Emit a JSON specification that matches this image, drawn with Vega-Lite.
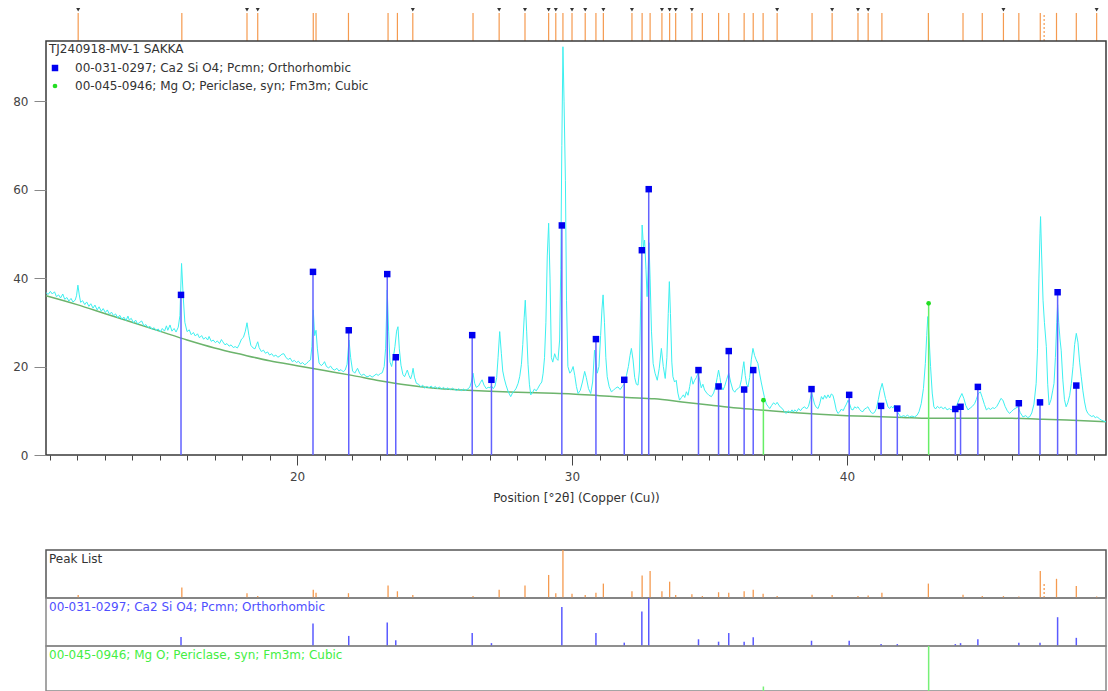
{
"$schema":"https://vega.github.io/schema/vega-lite/v6.json",
"background":"white",
"padding":{"left":11,"top":5,"right":2,"bottom":0},
"config":{"font":"DejaVu Sans","view":{"stroke":null},
 "axisY":{"tickCount":5,"tickSize":12,"tickColor":"#888","labelColor":"#444","labelFontSize":12,"labelPadding":6,"domain":false,"grid":false}},
"datasets":{
"spec":[
{"t":10.87,"c":36.7},{"t":10.95,"c":36.3},{"t":11.03,"c":37.0},{"t":11.1,"c":36.4},{"t":11.18,"c":36.9},{"t":11.25,"c":35.8},{"t":11.33,"c":36.2},{"t":11.4,"c":35.5},{"t":11.48,"c":36.4},{"t":11.55,"c":35.2},{"t":11.63,"c":35.6},{"t":11.7,"c":34.8},{"t":11.78,"c":35.4},{"t":11.85,"c":34.6},{"t":11.93,"c":35.0},{"t":11.98,"c":36.0},{"t":12.03,"c":38.4},{"t":12.08,"c":36.2},{"t":12.13,"c":34.5},{"t":12.2,"c":34.9},{"t":12.28,"c":34.0},{"t":12.35,"c":34.6},{"t":12.43,"c":33.6},{"t":12.5,"c":34.2},{"t":12.58,"c":33.2},{"t":12.65,"c":33.9},{"t":12.73,"c":32.8},{"t":12.8,"c":33.5},{"t":12.88,"c":32.5},{"t":12.95,"c":33.1},{"t":13.03,"c":32.2},{"t":13.1,"c":32.8},{"t":13.18,"c":31.8},{"t":13.25,"c":32.3},{"t":13.33,"c":31.5},{"t":13.4,"c":31.9},{"t":13.48,"c":31.0},{"t":13.55,"c":31.6},{"t":13.63,"c":30.7},{"t":13.7,"c":31.2},{"t":13.78,"c":30.4},{"t":13.85,"c":31.4},{"t":13.9,"c":30.5},{"t":13.97,"c":30.9},{"t":14.05,"c":29.9},{"t":14.13,"c":30.5},{"t":14.2,"c":29.6},{"t":14.28,"c":30.0},{"t":14.35,"c":30.3},{"t":14.43,"c":29.2},{"t":14.5,"c":29.5},{"t":14.58,"c":28.8},{"t":14.65,"c":29.1},{"t":14.73,"c":28.4},{"t":14.8,"c":28.8},{"t":14.88,"c":28.1},{"t":14.95,"c":28.5},{"t":15.03,"c":27.8},{"t":15.1,"c":28.6},{"t":15.18,"c":28.0},{"t":15.25,"c":29.2},{"t":15.3,"c":28.2},{"t":15.38,"c":29.4},{"t":15.45,"c":28.0},{"t":15.53,"c":28.6},{"t":15.6,"c":27.8},{"t":15.68,"c":28.9},{"t":15.74,"c":31.5},{"t":15.8,"c":43.3},{"t":15.86,"c":35.8},{"t":15.92,"c":30.0},{"t":16.0,"c":27.9},{"t":16.08,"c":28.3},{"t":16.15,"c":27.2},{"t":16.23,"c":27.7},{"t":16.3,"c":26.9},{"t":16.38,"c":27.4},{"t":16.45,"c":26.5},{"t":16.53,"c":27.0},{"t":16.6,"c":26.2},{"t":16.68,"c":26.6},{"t":16.75,"c":26.0},{"t":16.8,"c":26.8},{"t":16.88,"c":25.7},{"t":16.95,"c":26.0},{"t":17.03,"c":25.4},{"t":17.1,"c":25.8},{"t":17.18,"c":25.2},{"t":17.25,"c":26.1},{"t":17.3,"c":25.6},{"t":17.38,"c":24.9},{"t":17.45,"c":25.2},{"t":17.53,"c":24.6},{"t":17.6,"c":24.9},{"t":17.68,"c":24.3},{"t":17.75,"c":24.5},{"t":17.83,"c":24.2},{"t":17.9,"c":25.0},{"t":17.98,"c":26.2},{"t":18.05,"c":26.6},{"t":18.12,"c":28.0},{"t":18.18,"c":29.9},{"t":18.25,"c":27.0},{"t":18.32,"c":24.8},{"t":18.4,"c":24.2},{"t":18.47,"c":24.0},{"t":18.53,"c":25.0},{"t":18.57,"c":25.6},{"t":18.62,"c":24.3},{"t":18.7,"c":23.4},{"t":18.78,"c":23.7},{"t":18.85,"c":23.0},{"t":18.93,"c":23.3},{"t":19.0,"c":22.6},{"t":19.08,"c":22.9},{"t":19.15,"c":22.3},{"t":19.23,"c":22.6},{"t":19.3,"c":22.1},{"t":19.38,"c":22.4},{"t":19.45,"c":22.8},{"t":19.52,"c":22.9},{"t":19.6,"c":22.0},{"t":19.68,"c":21.6},{"t":19.75,"c":21.9},{"t":19.83,"c":21.1},{"t":19.9,"c":21.4},{"t":19.98,"c":20.9},{"t":20.05,"c":21.2},{"t":20.13,"c":20.6},{"t":20.2,"c":20.9},{"t":20.28,"c":20.4},{"t":20.35,"c":20.7},{"t":20.42,"c":21.2},{"t":20.49,"c":21.5},{"t":20.54,"c":24.5},{"t":20.59,"c":32.8},{"t":20.64,"c":27.0},{"t":20.69,"c":28.2},{"t":20.74,"c":24.0},{"t":20.8,"c":20.8},{"t":20.88,"c":20.2},{"t":20.95,"c":20.6},{"t":21.0,"c":21.1},{"t":21.07,"c":20.0},{"t":21.15,"c":19.7},{"t":21.22,"c":20.1},{"t":21.3,"c":19.4},{"t":21.37,"c":19.2},{"t":21.45,"c":19.6},{"t":21.52,"c":19.0},{"t":21.6,"c":19.3},{"t":21.68,"c":18.8},{"t":21.75,"c":19.2},{"t":21.82,"c":20.5},{"t":21.89,"c":26.0},{"t":21.95,"c":22.0},{"t":22.02,"c":19.0},{"t":22.1,"c":18.5},{"t":22.2,"c":19.6},{"t":22.28,"c":18.4},{"t":22.35,"c":18.0},{"t":22.43,"c":18.3},{"t":22.5,"c":17.8},{"t":22.58,"c":17.7},{"t":22.65,"c":18.0},{"t":22.73,"c":17.6},{"t":22.8,"c":17.9},{"t":22.88,"c":18.3},{"t":22.95,"c":18.0},{"t":23.03,"c":18.4},{"t":23.1,"c":18.6},{"t":23.17,"c":20.0},{"t":23.22,"c":24.0},{"t":23.28,"c":37.3},{"t":23.33,"c":28.0},{"t":23.38,"c":21.0},{"t":23.44,"c":20.0},{"t":23.5,"c":22.0},{"t":23.56,"c":24.5},{"t":23.62,"c":28.0},{"t":23.67,"c":29.0},{"t":23.72,"c":24.0},{"t":23.78,"c":20.3},{"t":23.85,"c":18.2},{"t":23.91,"c":17.7},{"t":23.97,"c":18.6},{"t":24.01,"c":19.2},{"t":24.07,"c":18.0},{"t":24.13,"c":17.2},{"t":24.18,"c":18.2},{"t":24.22,"c":19.6},{"t":24.27,"c":17.6},{"t":24.34,"c":16.2},{"t":24.42,"c":16.0},{"t":24.5,"c":15.4},{"t":24.57,"c":15.8},{"t":24.64,"c":15.1},{"t":24.72,"c":15.5},{"t":24.8,"c":15.2},{"t":24.88,"c":15.6},{"t":24.95,"c":15.1},{"t":25.03,"c":15.5},{"t":25.1,"c":15.0},{"t":25.18,"c":15.4},{"t":25.25,"c":14.9},{"t":25.33,"c":15.3},{"t":25.41,"c":14.8},{"t":25.49,"c":15.2},{"t":25.57,"c":14.7},{"t":25.65,"c":15.1},{"t":25.73,"c":14.8},{"t":25.81,"c":14.6},{"t":25.89,"c":15.0},{"t":25.97,"c":14.5},{"t":26.05,"c":14.9},{"t":26.13,"c":14.6},{"t":26.2,"c":14.9},{"t":26.28,"c":15.3},{"t":26.34,"c":16.5},{"t":26.4,"c":18.5},{"t":26.46,"c":16.2},{"t":26.52,"c":15.3},{"t":26.6,"c":15.6},{"t":26.67,"c":16.4},{"t":26.73,"c":17.0},{"t":26.8,"c":15.8},{"t":26.88,"c":15.0},{"t":26.95,"c":15.3},{"t":27.02,"c":15.2},{"t":27.07,"c":15.6},{"t":27.14,"c":15.0},{"t":27.2,"c":15.6},{"t":27.26,"c":17.5},{"t":27.31,"c":22.0},{"t":27.37,"c":27.9},{"t":27.43,"c":23.0},{"t":27.48,"c":19.0},{"t":27.54,"c":17.2},{"t":27.6,"c":15.8},{"t":27.68,"c":14.3},{"t":27.77,"c":13.2},{"t":27.85,"c":14.2},{"t":27.92,"c":14.6},{"t":27.97,"c":15.1},{"t":28.04,"c":16.2},{"t":28.1,"c":17.8},{"t":28.16,"c":20.5},{"t":28.21,"c":25.0},{"t":28.26,"c":31.0},{"t":28.3,"c":35.0},{"t":28.35,"c":28.0},{"t":28.4,"c":20.5},{"t":28.45,"c":16.0},{"t":28.5,"c":13.6},{"t":28.57,"c":14.2},{"t":28.63,"c":14.9},{"t":28.7,"c":14.5},{"t":28.76,"c":15.1},{"t":28.83,"c":15.9},{"t":28.9,"c":16.5},{"t":28.95,"c":18.5},{"t":29.0,"c":22.0},{"t":29.05,"c":30.0},{"t":29.1,"c":45.0},{"t":29.15,"c":52.4},{"t":29.2,"c":40.0},{"t":29.25,"c":22.0},{"t":29.3,"c":21.0},{"t":29.37,"c":22.9},{"t":29.43,"c":21.8},{"t":29.49,"c":21.4},{"t":29.55,"c":26.0},{"t":29.59,"c":42.0},{"t":29.63,"c":70.0},{"t":29.67,"c":92.3},{"t":29.71,"c":80.0},{"t":29.76,"c":62.1},{"t":29.8,"c":35.0},{"t":29.85,"c":20.0},{"t":29.92,"c":18.5},{"t":29.98,"c":19.0},{"t":30.04,"c":20.0},{"t":30.1,"c":18.0},{"t":30.16,"c":15.5},{"t":30.22,"c":13.9},{"t":30.3,"c":14.6},{"t":30.38,"c":16.5},{"t":30.46,"c":18.9},{"t":30.52,"c":17.5},{"t":30.6,"c":15.0},{"t":30.68,"c":13.9},{"t":30.75,"c":16.5},{"t":30.82,"c":23.7},{"t":30.87,"c":21.0},{"t":30.92,"c":18.5},{"t":30.98,"c":20.0},{"t":31.04,"c":27.0},{"t":31.09,"c":33.0},{"t":31.13,"c":36.2},{"t":31.18,"c":30.0},{"t":31.23,"c":22.0},{"t":31.28,"c":17.7},{"t":31.35,"c":15.5},{"t":31.43,"c":14.3},{"t":31.5,"c":14.6},{"t":31.58,"c":15.1},{"t":31.67,"c":15.4},{"t":31.75,"c":14.8},{"t":31.83,"c":15.5},{"t":31.91,"c":16.2},{"t":31.98,"c":18.0},{"t":32.05,"c":20.0},{"t":32.11,"c":22.5},{"t":32.16,"c":24.1},{"t":32.22,"c":21.5},{"t":32.28,"c":17.5},{"t":32.34,"c":16.0},{"t":32.4,"c":15.8},{"t":32.45,"c":19.0},{"t":32.5,"c":35.0},{"t":32.55,"c":52.0},{"t":32.6,"c":47.0},{"t":32.64,"c":48.6},{"t":32.69,"c":42.0},{"t":32.73,"c":35.8},{"t":32.77,"c":42.0},{"t":32.8,"c":48.0},{"t":32.84,"c":40.0},{"t":32.89,"c":28.0},{"t":32.95,"c":20.7},{"t":33.02,"c":18.5},{"t":33.1,"c":16.9},{"t":33.17,"c":19.5},{"t":33.25,"c":24.1},{"t":33.32,"c":20.0},{"t":33.39,"c":17.3},{"t":33.45,"c":22.0},{"t":33.5,"c":32.0},{"t":33.54,"c":39.2},{"t":33.58,"c":32.0},{"t":33.63,"c":21.0},{"t":33.67,"c":17.7},{"t":33.73,"c":16.5},{"t":33.79,"c":16.9},{"t":33.85,"c":14.0},{"t":33.91,"c":12.4},{"t":33.98,"c":13.0},{"t":34.05,"c":13.6},{"t":34.1,"c":13.0},{"t":34.16,"c":14.3},{"t":34.22,"c":13.5},{"t":34.28,"c":15.5},{"t":34.34,"c":17.7},{"t":34.4,"c":16.0},{"t":34.46,"c":16.9},{"t":34.52,"c":17.5},{"t":34.58,"c":18.5},{"t":34.64,"c":17.0},{"t":34.7,"c":15.2},{"t":34.76,"c":16.0},{"t":34.82,"c":14.7},{"t":34.9,"c":14.0},{"t":34.98,"c":13.5},{"t":35.07,"c":13.2},{"t":35.15,"c":14.0},{"t":35.22,"c":15.5},{"t":35.28,"c":17.5},{"t":35.33,"c":19.2},{"t":35.38,"c":17.5},{"t":35.43,"c":15.5},{"t":35.49,"c":14.7},{"t":35.55,"c":15.5},{"t":35.62,"c":17.0},{"t":35.7,"c":18.5},{"t":35.77,"c":16.5},{"t":35.85,"c":14.7},{"t":35.92,"c":14.2},{"t":35.98,"c":14.8},{"t":36.04,"c":15.0},{"t":36.1,"c":15.4},{"t":36.16,"c":17.0},{"t":36.21,"c":19.5},{"t":36.25,"c":21.1},{"t":36.3,"c":18.0},{"t":36.35,"c":16.0},{"t":36.4,"c":15.4},{"t":36.46,"c":17.5},{"t":36.52,"c":21.5},{"t":36.58,"c":24.1},{"t":36.64,"c":22.5},{"t":36.7,"c":21.5},{"t":36.76,"c":20.7},{"t":36.82,"c":18.5},{"t":36.88,"c":16.5},{"t":36.94,"c":14.7},{"t":37.0,"c":13.0},{"t":37.07,"c":11.5},{"t":37.13,"c":11.0},{"t":37.19,"c":10.5},{"t":37.26,"c":11.2},{"t":37.33,"c":11.8},{"t":37.4,"c":11.4},{"t":37.46,"c":11.9},{"t":37.52,"c":11.3},{"t":37.58,"c":10.8},{"t":37.65,"c":10.5},{"t":37.72,"c":9.8},{"t":37.79,"c":9.4},{"t":37.86,"c":10.0},{"t":37.93,"c":9.6},{"t":38.0,"c":10.2},{"t":38.05,"c":9.7},{"t":38.1,"c":10.2},{"t":38.17,"c":9.8},{"t":38.24,"c":10.5},{"t":38.31,"c":10.0},{"t":38.38,"c":10.6},{"t":38.46,"c":10.9},{"t":38.53,"c":10.4},{"t":38.6,"c":11.0},{"t":38.66,"c":12.5},{"t":38.71,"c":14.3},{"t":38.76,"c":13.0},{"t":38.82,"c":11.5},{"t":38.88,"c":10.8},{"t":38.95,"c":10.5},{"t":39.01,"c":11.6},{"t":39.07,"c":13.2},{"t":39.13,"c":12.6},{"t":39.19,"c":13.5},{"t":39.25,"c":12.8},{"t":39.31,"c":13.6},{"t":39.37,"c":12.9},{"t":39.43,"c":13.8},{"t":39.49,"c":13.5},{"t":39.55,"c":12.0},{"t":39.61,"c":10.2},{"t":39.67,"c":9.4},{"t":39.74,"c":9.8},{"t":39.8,"c":10.4},{"t":39.86,"c":10.0},{"t":39.92,"c":10.8},{"t":39.98,"c":11.5},{"t":40.04,"c":12.4},{"t":40.1,"c":11.5},{"t":40.16,"c":10.3},{"t":40.22,"c":10.2},{"t":40.28,"c":10.9},{"t":40.34,"c":10.6},{"t":40.4,"c":10.9},{"t":40.46,"c":10.3},{"t":40.52,"c":9.9},{"t":40.58,"c":9.8},{"t":40.64,"c":10.4},{"t":40.7,"c":10.6},{"t":40.76,"c":10.9},{"t":40.82,"c":10.2},{"t":40.88,"c":9.6},{"t":40.94,"c":9.4},{"t":41.0,"c":9.6},{"t":41.07,"c":10.5},{"t":41.14,"c":12.5},{"t":41.2,"c":14.5},{"t":41.28,"c":16.2},{"t":41.34,"c":14.5},{"t":41.4,"c":12.8},{"t":41.49,"c":10.9},{"t":41.55,"c":10.5},{"t":41.61,"c":11.0},{"t":41.67,"c":10.6},{"t":41.73,"c":11.3},{"t":41.79,"c":10.4},{"t":41.85,"c":9.6},{"t":41.91,"c":9.0},{"t":41.97,"c":8.6},{"t":42.05,"c":8.9},{"t":42.13,"c":8.7},{"t":42.2,"c":9.0},{"t":42.28,"c":8.6},{"t":42.36,"c":8.8},{"t":42.46,"c":8.6},{"t":42.55,"c":9.0},{"t":42.62,"c":9.8},{"t":42.7,"c":11.6},{"t":42.78,"c":15.0},{"t":42.85,"c":20.7},{"t":42.9,"c":27.0},{"t":42.94,"c":31.3},{"t":42.99,"c":26.0},{"t":43.04,"c":20.0},{"t":43.1,"c":14.0},{"t":43.16,"c":10.9},{"t":43.22,"c":10.4},{"t":43.29,"c":11.0},{"t":43.36,"c":10.6},{"t":43.43,"c":10.9},{"t":43.5,"c":10.4},{"t":43.57,"c":10.8},{"t":43.64,"c":10.2},{"t":43.72,"c":10.5},{"t":43.79,"c":10.2},{"t":43.86,"c":10.6},{"t":43.92,"c":10.3},{"t":43.97,"c":10.9},{"t":44.03,"c":11.8},{"t":44.1,"c":12.9},{"t":44.18,"c":13.9},{"t":44.25,"c":12.8},{"t":44.32,"c":11.2},{"t":44.4,"c":10.2},{"t":44.48,"c":10.6},{"t":44.56,"c":11.0},{"t":44.64,"c":11.6},{"t":44.7,"c":12.5},{"t":44.77,"c":13.8},{"t":44.85,"c":14.3},{"t":44.92,"c":13.0},{"t":45.0,"c":11.4},{"t":45.07,"c":10.2},{"t":45.15,"c":10.6},{"t":45.22,"c":10.3},{"t":45.3,"c":10.7},{"t":45.37,"c":10.5},{"t":45.45,"c":11.0},{"t":45.52,"c":11.8},{"t":45.6,"c":12.8},{"t":45.67,"c":12.4},{"t":45.75,"c":11.0},{"t":45.83,"c":10.0},{"t":45.91,"c":9.4},{"t":45.98,"c":9.8},{"t":46.06,"c":10.3},{"t":46.14,"c":10.6},{"t":46.22,"c":10.9},{"t":46.3,"c":9.6},{"t":46.4,"c":8.6},{"t":46.5,"c":8.9},{"t":46.57,"c":8.5},{"t":46.64,"c":8.6},{"t":46.72,"c":9.5},{"t":46.8,"c":11.5},{"t":46.88,"c":16.2},{"t":46.93,"c":24.0},{"t":46.98,"c":40.0},{"t":47.02,"c":50.0},{"t":47.04,"c":53.9},{"t":47.08,"c":45.0},{"t":47.13,"c":35.0},{"t":47.18,"c":30.0},{"t":47.25,"c":24.5},{"t":47.3,"c":16.0},{"t":47.35,"c":11.3},{"t":47.42,"c":12.5},{"t":47.48,"c":14.5},{"t":47.53,"c":16.2},{"t":47.58,"c":22.0},{"t":47.63,"c":30.0},{"t":47.66,"c":34.0},{"t":47.7,"c":30.0},{"t":47.75,"c":26.0},{"t":47.79,"c":23.7},{"t":47.85,"c":17.0},{"t":47.91,"c":12.5},{"t":47.97,"c":10.9},{"t":48.03,"c":11.8},{"t":48.1,"c":13.5},{"t":48.16,"c":16.2},{"t":48.22,"c":20.0},{"t":48.28,"c":25.0},{"t":48.34,"c":27.5},{"t":48.4,"c":25.5},{"t":48.46,"c":21.0},{"t":48.52,"c":17.7},{"t":48.58,"c":14.5},{"t":48.64,"c":12.0},{"t":48.7,"c":10.2},{"t":48.76,"c":9.4},{"t":48.83,"c":9.0},{"t":48.9,"c":8.7},{"t":48.97,"c":8.9},{"t":49.03,"c":8.4},{"t":49.07,"c":8.6},{"t":49.12,"c":8.5},{"t":49.18,"c":8.2},{"t":49.25,"c":7.9},{"t":49.32,"c":7.7},{"t":49.42,"c":7.5}
],
"bg":[
{"t":10.87,"b":36.0},{"t":12,"b":34.0},{"t":13,"b":32.0},{"t":14,"b":30.0},{"t":15,"b":28.0},{"t":16,"b":26.0},{"t":17,"b":24.2},{"t":18,"b":22.7},{"t":19,"b":21.3},{"t":20,"b":20.2},{"t":21,"b":19.1},{"t":22,"b":18.0},{"t":23,"b":16.8},{"t":24,"b":15.8},{"t":25,"b":15.1},{"t":26,"b":14.7},{"t":27,"b":14.4},{"t":28,"b":14.2},{"t":29,"b":14.0},{"t":30,"b":13.8},{"t":31,"b":13.4},{"t":32,"b":13.0},{"t":33,"b":12.7},{"t":34,"b":12.0},{"t":35,"b":11.3},{"t":36,"b":10.6},{"t":37,"b":10.1},{"t":38,"b":9.6},{"t":39,"b":9.2},{"t":40,"b":8.9},{"t":41,"b":8.7},{"t":42,"b":8.5},{"t":43,"b":8.3},{"t":44,"b":8.3},{"t":45,"b":8.3},{"t":46,"b":8.3},{"t":47,"b":8.1},{"t":48,"b":7.9},{"t":49.42,"b":7.5}
],
"peaks":[
{"t":12.04,"I":6,"m":1,"d":0},{"t":15.81,"I":22,"m":0,"d":0},{"t":18.18,"I":10,"m":1,"d":0},{"t":18.57,"I":4,"m":1,"d":0},{"t":20.59,"I":17,"m":0,"d":0},{"t":20.69,"I":11,"m":0,"d":0},{"t":21.87,"I":10,"m":0,"d":0},{"t":23.31,"I":26,"m":0,"d":0},{"t":23.65,"I":14,"m":0,"d":0},{"t":24.21,"I":6,"m":1,"d":0},{"t":26.40,"I":4,"m":0,"d":0},{"t":27.35,"I":17,"m":1,"d":0},{"t":28.29,"I":26,"m":1,"d":0},{"t":29.15,"I":48,"m":1,"d":0},{"t":29.41,"I":10,"m":1,"d":0},{"t":29.67,"I":100,"m":0,"d":0},{"t":30.00,"I":9,"m":1,"d":0},{"t":30.48,"I":6,"m":1,"d":0},{"t":30.87,"I":11,"m":0,"d":0},{"t":31.14,"I":30,"m":1,"d":0},{"t":32.18,"I":14,"m":1,"d":0},{"t":32.55,"I":47,"m":0,"d":0},{"t":32.84,"I":56,"m":0,"d":0},{"t":33.27,"I":14,"m":1,"d":0},{"t":33.55,"I":34,"m":1,"d":0},{"t":33.77,"I":6,"m":1,"d":0},{"t":34.36,"I":8,"m":1,"d":0},{"t":34.74,"I":4,"m":0,"d":0},{"t":35.33,"I":12,"m":0,"d":0},{"t":35.70,"I":11,"m":0,"d":0},{"t":36.26,"I":14,"m":0,"d":0},{"t":36.59,"I":17,"m":0,"d":0},{"t":36.95,"I":9,"m":0,"d":0},{"t":37.46,"I":4,"m":1,"d":0},{"t":38.73,"I":7,"m":0,"d":0},{"t":39.46,"I":6,"m":1,"d":0},{"t":40.40,"I":4,"m":1,"d":0},{"t":40.77,"I":5,"m":1,"d":0},{"t":41.27,"I":11,"m":0,"d":0},{"t":42.96,"I":30,"m":0,"d":0},{"t":44.22,"I":7,"m":0,"d":0},{"t":44.92,"I":4,"m":0,"d":0},{"t":45.69,"I":4,"m":1,"d":0},{"t":46.25,"I":3,"m":0,"d":0},{"t":47.03,"I":56,"m":0,"d":0},{"t":47.17,"I":29,"m":0,"d":1},{"t":47.62,"I":40,"m":0,"d":0},{"t":48.34,"I":25,"m":0,"d":0},{"t":49.08,"I":3,"m":1,"d":0}
],
"refs":[
{"phase":"00-031-0297; Ca2 Si O4; Pcmn; Orthorhombic","t":15.78,"h":36.2,"I":19},
{"phase":"00-031-0297; Ca2 Si O4; Pcmn; Orthorhombic","t":20.58,"h":41.4,"I":47},
{"phase":"00-031-0297; Ca2 Si O4; Pcmn; Orthorhombic","t":21.88,"h":28.2,"I":21},
{"phase":"00-031-0297; Ca2 Si O4; Pcmn; Orthorhombic","t":23.28,"h":40.9,"I":49},
{"phase":"00-031-0297; Ca2 Si O4; Pcmn; Orthorhombic","t":23.59,"h":22.1,"I":12},
{"phase":"00-031-0297; Ca2 Si O4; Pcmn; Orthorhombic","t":26.37,"h":27.1,"I":27},
{"phase":"00-031-0297; Ca2 Si O4; Pcmn; Orthorhombic","t":27.07,"h":17.0,"I":6},
{"phase":"00-031-0297; Ca2 Si O4; Pcmn; Orthorhombic","t":29.63,"h":51.9,"I":81},
{"phase":"00-031-0297; Ca2 Si O4; Pcmn; Orthorhombic","t":30.87,"h":26.2,"I":27},
{"phase":"00-031-0297; Ca2 Si O4; Pcmn; Orthorhombic","t":31.90,"h":17.0,"I":7},
{"phase":"00-031-0297; Ca2 Si O4; Pcmn; Orthorhombic","t":32.54,"h":46.3,"I":72},
{"phase":"00-031-0297; Ca2 Si O4; Pcmn; Orthorhombic","t":32.79,"h":60.1,"I":100},
{"phase":"00-031-0297; Ca2 Si O4; Pcmn; Orthorhombic","t":34.60,"h":19.2,"I":14},
{"phase":"00-031-0297; Ca2 Si O4; Pcmn; Orthorhombic","t":35.33,"h":15.5,"I":9},
{"phase":"00-031-0297; Ca2 Si O4; Pcmn; Orthorhombic","t":35.70,"h":23.5,"I":27},
{"phase":"00-031-0297; Ca2 Si O4; Pcmn; Orthorhombic","t":36.26,"h":14.8,"I":9},
{"phase":"00-031-0297; Ca2 Si O4; Pcmn; Orthorhombic","t":36.59,"h":19.2,"I":18},
{"phase":"00-031-0297; Ca2 Si O4; Pcmn; Orthorhombic","t":38.71,"h":14.9,"I":11},
{"phase":"00-031-0297; Ca2 Si O4; Pcmn; Orthorhombic","t":40.08,"h":13.6,"I":11},
{"phase":"00-031-0297; Ca2 Si O4; Pcmn; Orthorhombic","t":41.24,"h":11.1,"I":4},
{"phase":"00-031-0297; Ca2 Si O4; Pcmn; Orthorhombic","t":41.83,"h":10.5,"I":4},
{"phase":"00-031-0297; Ca2 Si O4; Pcmn; Orthorhombic","t":43.94,"h":10.4,"I":4},
{"phase":"00-031-0297; Ca2 Si O4; Pcmn; Orthorhombic","t":44.13,"h":10.9,"I":6},
{"phase":"00-031-0297; Ca2 Si O4; Pcmn; Orthorhombic","t":44.76,"h":15.4,"I":14},
{"phase":"00-031-0297; Ca2 Si O4; Pcmn; Orthorhombic","t":46.25,"h":11.7,"I":7},
{"phase":"00-031-0297; Ca2 Si O4; Pcmn; Orthorhombic","t":47.02,"h":11.9,"I":7},
{"phase":"00-031-0297; Ca2 Si O4; Pcmn; Orthorhombic","t":47.66,"h":36.8,"I":60},
{"phase":"00-031-0297; Ca2 Si O4; Pcmn; Orthorhombic","t":48.34,"h":15.7,"I":17},
{"phase":"00-045-0946; Mg O; Periclase, syn; Fm3m; Cubic","t":36.96,"h":12.4,"I":10},
{"phase":"00-045-0946; Mg O; Periclase, syn; Fm3m; Cubic","t":42.97,"h":34.3,"I":100}
]
},
"bounds":"flush",
"spacing":0,
"resolve":{"scale":{"color":"independent","shape":"independent","size":"independent"},"legend":{"color":"independent","shape":"independent","size":"independent"}},
"vconcat":[
  {"width":1060,"height":36,"data":{"name":"peaks"},
   "encoding":{"x":{"field":"t","type":"quantitative","scale":{"domain":[10.87,49.42],"nice":false,"zero":false},"axis":null}},
   "layer":[
    {"transform":[{"filter":"datum.d==0"}],"mark":{"type":"rule","color":"#f59a4f","strokeWidth":1.2},
     "encoding":{"y":{"datum":0,"type":"quantitative","scale":{"domain":[0,1],"nice":false},"axis":null},"y2":{"datum":0.78}}},
    {"transform":[{"filter":"datum.d==1"}],"mark":{"type":"rule","color":"#f59a4f","strokeWidth":1.2,"strokeDash":[2,2]},
     "encoding":{"y":{"datum":0,"type":"quantitative","scale":{"domain":[0,1],"nice":false},"axis":null},"y2":{"datum":0.78}}},
    {"transform":[{"filter":"datum.m==1"}],"mark":{"type":"point","shape":"triangle-down","filled":true,"color":"#333","size":16,"opacity":1},
     "encoding":{"y":{"datum":0.87,"type":"quantitative","scale":{"domain":[0,1],"nice":false},"axis":null}}}
   ]},
  {"width":1060,"height":414,
   "view":{"stroke":"#3a3a3a","strokeWidth":1.5},
   "encoding":{"x":{"field":"t","type":"quantitative","scale":{"domain":[10.87,49.42],"nice":false,"zero":false},
     "axis":{"values":[11,12,13,14,15,16,17,18,19,20,21,22,23,24,25,26,27,28,29,30,31,32,33,34,35,36,37,38,39,40,41,42,43,44,45,46,47,48,49],
       "labelExpr":"datum.value % 10 === 0 ? datum.label : ''","labelOverlap":false,
       "tickSize":{"condition":{"test":"datum.value % 10 === 0","value":10},"value":5},
       "tickColor":"#444","domain":false,"grid":false,"labelColor":"#444","labelFontSize":12,"labelPadding":6,
       "title":"Position [°2θ] (Copper (Cu))","titleFontWeight":"normal","titleFontSize":12,"titleColor":"#333","titlePadding":10}}},
   "layer":[
    {"data":{"name":"bg"},"mark":{"type":"line","color":"#6cb46c","strokeWidth":1.5,"interpolate":"monotone"},
     "encoding":{"y":{"field":"b","type":"quantitative","title":null,"scale":{"domain":[0,93.6],"nice":false,"zero":false}}}},
    {"data":{"name":"spec"},"mark":{"type":"line","color":"#3cf0f0","strokeWidth":1},
     "encoding":{"y":{"field":"c","type":"quantitative","title":null,"scale":{"domain":[0,93.6],"nice":false,"zero":false}}}},
    {"data":{"name":"refs"},"transform":[{"filter":"test(/Ca2/, datum.phase)"}],"mark":{"type":"rule","color":"#6262ff","strokeWidth":1.5},
     "encoding":{"y":{"field":"h","type":"quantitative","title":null,"scale":{"domain":[0,93.6],"nice":false,"zero":false}},"y2":{"datum":0}}},
    {"data":{"name":"refs"},"transform":[{"filter":"test(/Mg O/, datum.phase)"}],"mark":{"type":"rule","color":"#66ee66","strokeWidth":1.5},
     "encoding":{"y":{"field":"h","type":"quantitative","title":null,"scale":{"domain":[0,93.6],"nice":false,"zero":false}},"y2":{"datum":0}}},
    {"data":{"name":"refs"},"mark":{"type":"point","filled":true,"opacity":1},
     "encoding":{"y":{"field":"h","type":"quantitative","title":null,"scale":{"domain":[0,93.6],"nice":false,"zero":false}},
      "color":{"field":"phase","type":"nominal","scale":{"domain":["00-031-0297; Ca2 Si O4; Pcmn; Orthorhombic","00-045-0946; Mg O; Periclase, syn; Fm3m; Cubic"],"range":["#0000f0","#22dd22"]},
        "legend":{"title":"TJ240918-MV-1 SAKKA","orient":"top-left","offset":3,"padding":0,"titleFontWeight":"normal","titleFontSize":12,"titleColor":"#333","titlePadding":6,"labelFontSize":12,"labelColor":"#333","labelOffset":14,"labelLimit":0,"rowPadding":6,"symbolStrokeWidth":0}},
      "shape":{"field":"phase","type":"nominal","scale":{"domain":["00-031-0297; Ca2 Si O4; Pcmn; Orthorhombic","00-045-0946; Mg O; Periclase, syn; Fm3m; Cubic"],"range":["square","circle"]},
        "legend":{"title":"TJ240918-MV-1 SAKKA"}},
      "size":{"field":"phase","type":"nominal","scale":{"domain":["00-031-0297; Ca2 Si O4; Pcmn; Orthorhombic","00-045-0946; Mg O; Periclase, syn; Fm3m; Cubic"],"range":[42,22]},
        "legend":{"title":"TJ240918-MV-1 SAKKA"}}}}
   ]},
  {"width":1060,"height":95,"data":{"name":"peaks"},"transform":[{"filter":"false"}],
   "mark":{"type":"point","opacity":0},
   "encoding":{"x":{"field":"t","type":"quantitative","axis":null},"y":{"field":"I","type":"quantitative","axis":null}}},
  {"width":1060,"height":48,"view":{"stroke":"#555","strokeWidth":1.5},
   "title":{"text":"Peak List","anchor":"start","offset":-17,"dx":3,"fontSize":12,"fontWeight":"normal","color":"#333"},
   "data":{"name":"peaks"},
   "encoding":{"x":{"field":"t","type":"quantitative","scale":{"domain":[10.87,49.42],"nice":false,"zero":false},"axis":null}},
   "layer":[
    {"transform":[{"filter":"datum.d==0"}],"mark":{"type":"rule","color":"#f59a4f","strokeWidth":1.3},
     "encoding":{"y":{"field":"I","type":"quantitative","scale":{"domain":[0,100],"nice":false},"axis":null},"y2":{"datum":0}}},
    {"transform":[{"filter":"datum.d==1"}],"mark":{"type":"rule","color":"#f59a4f","strokeWidth":1.3,"strokeDash":[2,2]},
     "encoding":{"y":{"field":"I","type":"quantitative","scale":{"domain":[0,100],"nice":false},"axis":null},"y2":{"datum":0}}}
   ]},
  {"width":1060,"height":48,"view":{"stroke":"#888","strokeWidth":1.5},
   "title":{"text":"00-031-0297; Ca2 Si O4; Pcmn; Orthorhombic","anchor":"start","offset":-17,"dx":3,"fontSize":12,"fontWeight":"normal","color":"#4f4fff"},
   "data":{"name":"refs"},"transform":[{"filter":"test(/Ca2/, datum.phase)"}],
   "mark":{"type":"rule","color":"#5a5aff","strokeWidth":1.5},
   "encoding":{"x":{"field":"t","type":"quantitative","scale":{"domain":[10.87,49.42],"nice":false,"zero":false},"axis":null},
     "y":{"field":"I","type":"quantitative","scale":{"domain":[0,100],"nice":false},"axis":null},"y2":{"datum":0}}},
  {"width":1060,"height":45,"view":{"stroke":"#888","strokeWidth":1.5},
   "title":{"text":"00-045-0946; Mg O; Periclase, syn; Fm3m; Cubic","anchor":"start","offset":-17,"dx":3,"fontSize":12,"fontWeight":"normal","color":"#44ee44"},
   "data":{"name":"refs"},"transform":[{"filter":"test(/Mg O/, datum.phase)"}],
   "mark":{"type":"rule","color":"#77f077","strokeWidth":1.5},
   "encoding":{"x":{"field":"t","type":"quantitative","scale":{"domain":[10.87,49.42],"nice":false,"zero":false},"axis":null},
     "y":{"field":"I","type":"quantitative","scale":{"domain":[0,100],"nice":false},"axis":null},"y2":{"datum":0}}}
]
}
